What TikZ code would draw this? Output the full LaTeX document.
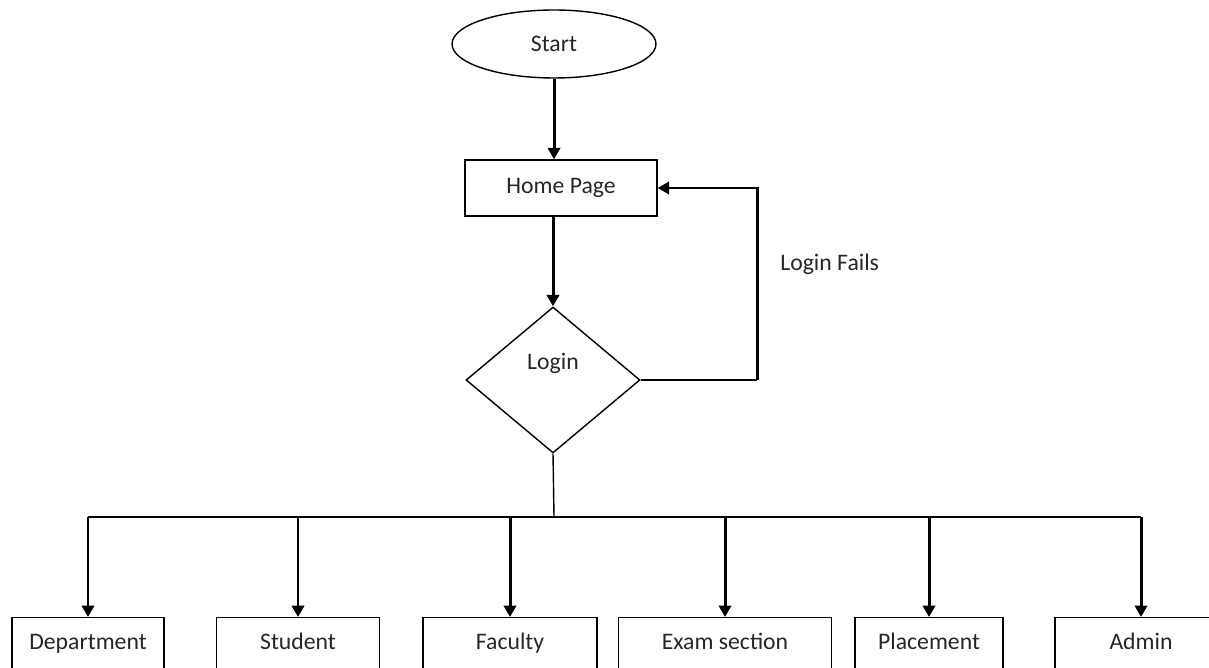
\documentclass[tikz,border=0pt]{standalone}
\usepackage{fontspec}
\setmainfont{Carlito}
\usetikzlibrary{arrows.meta}
\usetikzlibrary{shapes.geometric}
\usetikzlibrary{positioning}

\begin{document}
\begin{tikzpicture}
	[x=0.02cm,y=-0.02cm,
	 font=\fontsize{13.5}{15}\selectfont,
	 text=black!85,
	 terminal/.style={ellipse,draw,line width=0.8pt,minimum width=4.08cm,minimum height=1.36cm,inner sep=0pt},
	 process/.style={rectangle,draw,line width=0.8pt,minimum height=1.12cm,inner sep=0pt},
	 decision/.style={diamond,draw,line width=0.8pt,minimum width=3.48cm,minimum height=2.92cm,inner sep=0pt,text depth=0.75cm},
	 module/.style={rectangle,draw,line width=0.8pt,anchor=north,minimum height=1.06cm,inner sep=0pt,
	   text height=0.3cm,text depth=0.1cm},
	 flow/.style={-{Triangle[length=6.5pt,width=7pt]},line width=1.7pt},
	 link/.style={line width=0.8pt}]

	\useasboundingbox (0,0) rectangle (1209,668);
	\clip (0,0) rectangle (1209,668);

	\node[terminal] (start) at (554,44) {Start};
	\node[process,minimum width=3.84cm] (home) at (561,188) {Home Page};
	\node[decision] (login) at (553,380) {Login};
	\draw[flow] (start.south) -- (start.south |- home.north);
	\draw[flow] (login.north |- home.south) -- (login.north);

	\coordinate (loopturn) at (757,380);
	\draw[link] (login.east) -- (loopturn);
	\draw[flow] (loopturn) |- node[pos=0.3,right=0.32cm] {Login Fails} (home.east);

	\node[module,minimum width=3.04cm] (dept) at (88,617) {Department};
	\node[module,minimum width=3.26cm] (student) at (298,617) {Student};
	\node[module,minimum width=3.48cm] (faculty) at (510,617) {Faculty};
	\node[module,minimum width=4.26cm] (exam) at (725,617) {Exam section};
	\node[module,minimum width=2.96cm] (placement) at (929,617) {Placement};
	\node[module,minimum width=3.44cm] (admin) at (1141,617) {Admin};

	\coordinate (bus) at (554,517);
	\draw[link] (login.south) -- (bus);
	\draw[link] (dept.north |- bus) -- (admin.north |- bus);
	\foreach \m in {dept,student,faculty,exam,placement,admin}
		\draw[flow] (\m.north |- bus) -- (\m.north);
\end{tikzpicture}
\end{document}
